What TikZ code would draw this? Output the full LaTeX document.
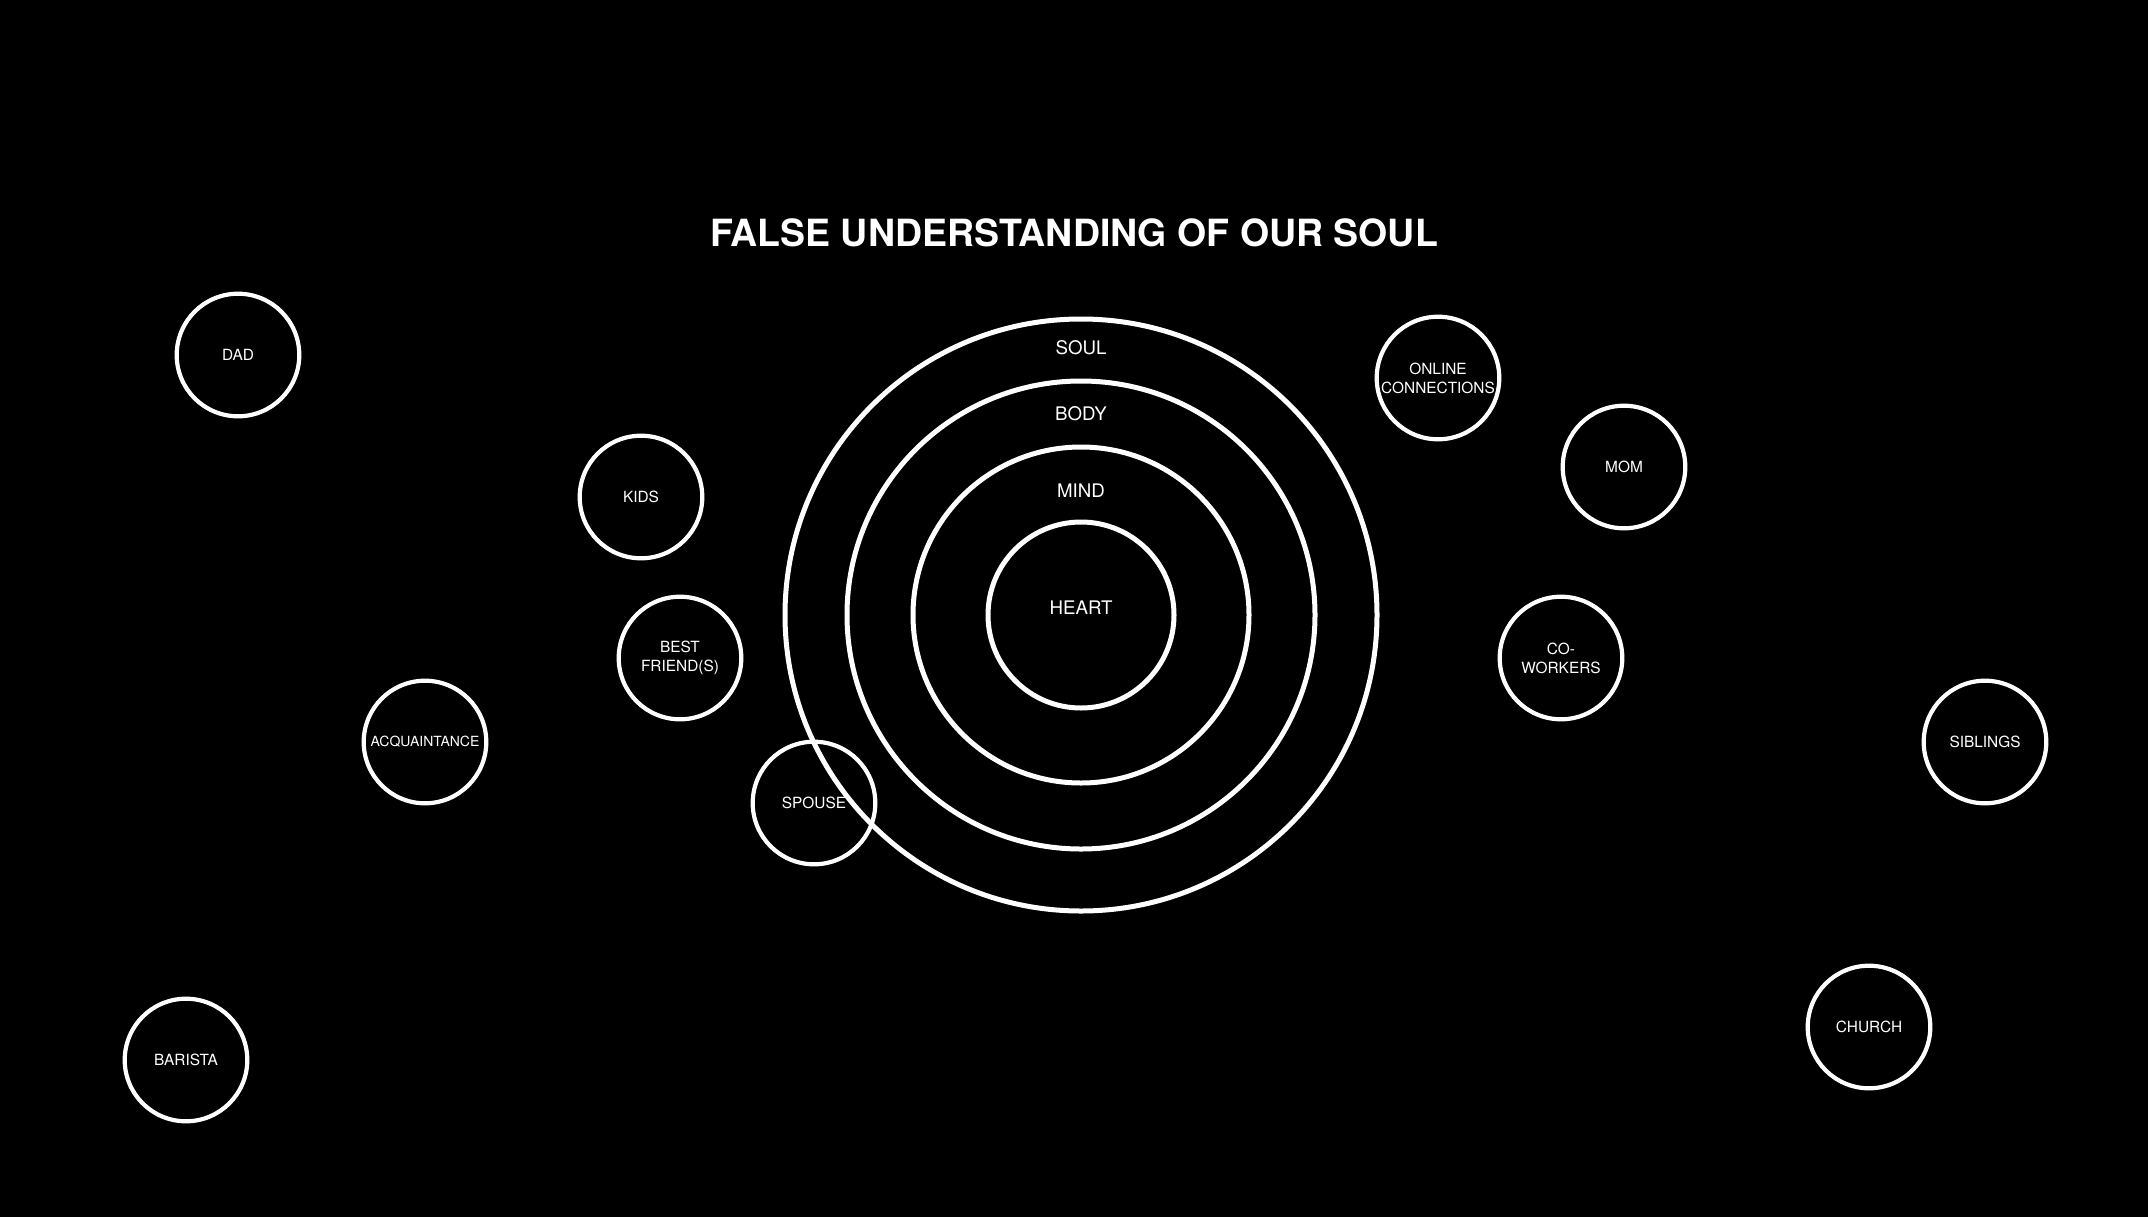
\documentclass[tikz,border=0pt]{standalone}
\usepackage{fontspec}
\setmainfont{TeX Gyre Heros}
\tikzset{person/.style = {draw=white, line width=4.2pt, circle, inner sep=0,
                          minimum size=122.6pt, text=white, align=center,
                          font=\fontsize{15.4}{19}\selectfont}}
\tikzset{layer/.style = {text=white, font=\fontsize{18.7}{22}\selectfont}}
\tikzset{ring/.style = {draw=white, line width=5pt}}

\begin{document}
\begin{tikzpicture}[x=1pt, y=-1pt]
      \useasboundingbox (0, 0) rectangle (2148, 1216);
      \fill [black] (-6, -6) rectangle (2154, 1222);
      \node [text=white, font=\fontsize{37.5}{44}\selectfont\bfseries] (title) at (1074, 233)
            {FALSE UNDERSTANDING OF OUR SOUL};
      \coordinate (hub) at (1081, 615);
      \draw [ring] (hub) circle [radius=296pt];
      \draw [ring] (hub) circle [radius=234pt];
      \draw [ring] (hub) circle [radius=168pt];
      \draw [ring] (hub) circle [radius=93pt];
      \node [layer] (soul) at (1081, 348) {SOUL};
      \node [layer] (body) at (1081, 414) {BODY};
      \node [layer] (mind) at (1081, 491) {MIND};
      \node [layer] (heart) at (1081, 608) {HEART};
      \node [person] (dad) at (238, 355) {DAD};
      \node [person] (kids) at (641, 497) {KIDS};
      \node [person] (friends) at (680, 658) {BEST\\FRIEND(S)};
      \node [person, font=\fontsize{14}{19}\selectfont] (acquaintance) at (425, 742) {ACQUAINTANCE};
      \node [person] (spouse) at (814, 803) {SPOUSE};
      \node [person] (barista) at (186, 1060) {BARISTA};
      \node [person] (online) at (1438, 378) {ONLINE\\CONNECTIONS};
      \node [person] (mom) at (1624, 467) {MOM};
      \node [person] (coworkers) at (1561, 658) {CO-\\WORKERS};
      \node [person] (siblings) at (1985, 742) {SIBLINGS};
      \node [person] (church) at (1869, 1027) {CHURCH};
    \end{tikzpicture}
\end{document}
